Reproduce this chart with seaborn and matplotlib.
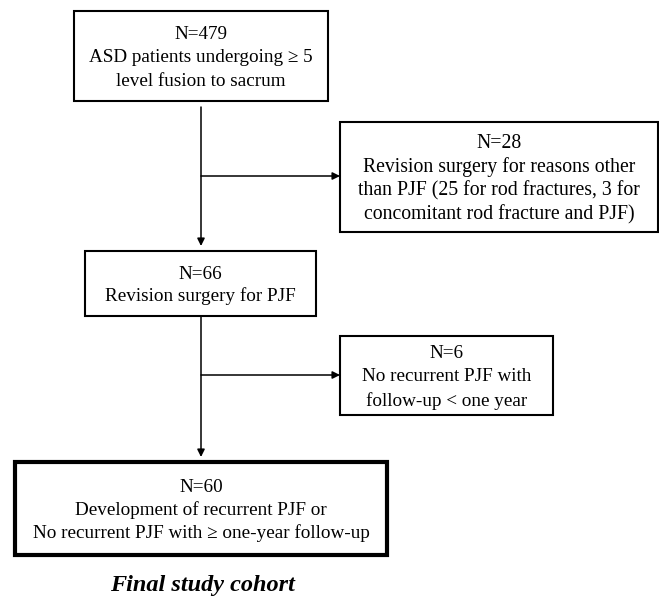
import matplotlib
matplotlib.use("Agg")
import matplotlib.pyplot as plt
import seaborn as sns
from matplotlib.patches import Rectangle

sns.set_theme(style="white")
plt.rcParams['font.family'] = ['Liberation Serif', 'DejaVu Serif']

# Box contents
box_texts = [
    "N=479\nASD patients undergoing \u2265 5\nlevel fusion to sacrum",
    "N=28\nRevision surgery for reasons other\nthan PJF (25 for rod fractures, 3 for\nconcomitant rod fracture and PJF)",
    "N=66\nRevision surgery for PJF",
    "N=6\nNo recurrent PJF with\nfollow-up < one year",
    "N=60\nDevelopment of recurrent PJF or\nNo recurrent PJF with \u2265 one-year follow-up",
]
caption = "Final study cohort"

# Layout (pixel coordinates)
box_x0 = [74, 340, 85, 340, 15]
box_x1 = [328, 658, 316, 553, 387]
box_y0 = [11, 122, 251, 336, 462]
box_y1 = [101, 232, 316, 415, 555]
box_lw = [1.5, 1.5, 1.5, 1.5, 3.0]
box_fs = [13.8, 14.2, 13.8, 13.8, 13.8]
box_ls = [1.48, 1.28, 1.35, 1.5, 1.4]

fig = plt.figure(figsize=(6.59, 5.97), dpi=100)
ax = fig.add_axes([0, 0, 1, 1])
ax.set_xlim(0, 659)
ax.set_ylim(597, 0)
ax.axis("off")

for x0, x1, y0, y1, lw, fs, ls, t in zip(box_x0, box_x1, box_y0, box_y1,
                                         box_lw, box_fs, box_ls, box_texts):
    ax.add_patch(Rectangle((x0, y0), x1 - x0, y1 - y0, fill=False,
                           edgecolor="black", linewidth=lw, joinstyle="miter"))
    ax.text((x0 + x1) / 2, (y0 + y1) / 2 + 2, t, ha="center", va="center",
            fontsize=fs, linespacing=ls, color="black")

main_x = 201
arrow_kw = dict(arrowstyle="-|>", color="black", lw=1.1, mutation_scale=11,
                shrinkA=0, shrinkB=0)
# vertical arrows
ax.annotate("", xy=(main_x, box_y0[2] - 5), xytext=(main_x, box_y1[0] + 6), arrowprops=arrow_kw)
ax.annotate("", xy=(main_x, box_y0[4] - 5), xytext=(main_x, box_y1[2]), arrowprops=arrow_kw)
# side arrows
ax.annotate("", xy=(box_x0[1], 176), xytext=(main_x, 176), arrowprops=arrow_kw)
ax.annotate("", xy=(box_x0[3], 375), xytext=(main_x, 375), arrowprops=arrow_kw)

ax.text(202, 585, caption, ha="center", va="center", fontsize=17.5,
        fontweight="bold", fontstyle="italic", color="black")

fig.savefig("out.png", dpi=100)
